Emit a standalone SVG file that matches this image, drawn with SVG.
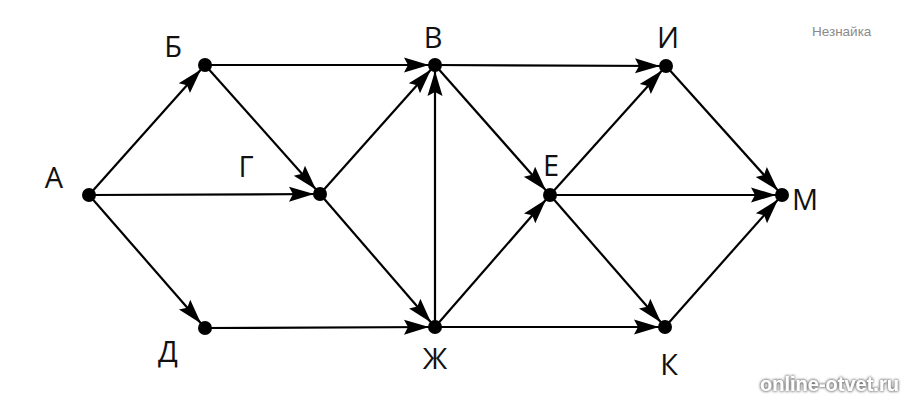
<svg xmlns="http://www.w3.org/2000/svg" width="906" height="400" viewBox="0 0 906 400">
<style>
.e{stroke:#000;stroke-width:2.2;fill:none;marker-end:url(#ah)}
.d{fill:#000}
.l{font-family:"Open Sans","Liberation Sans",sans-serif;font-size:29px;fill:#111;text-anchor:middle}
.wm{font-family:"Liberation Sans",Arial,sans-serif;font-size:13.5px;fill:#8a8a8a}
.wm2{font-family:"Liberation Sans",Arial,sans-serif;font-size:20px;font-weight:bold;fill:#fff}
</style>
<defs>
<marker id="ah" markerUnits="userSpaceOnUse" markerWidth="30" markerHeight="20" refX="6" refY="0" orient="auto" overflow="visible">
<path d="M-25,-7.5 L0,0 L-25,7.5 L-21,0 z" fill="#000"/>
</marker>
<filter id="sh" x="-10%" y="-50%" width="120%" height="200%">
<feGaussianBlur in="SourceAlpha" stdDeviation="1.5" result="b"/>
<feFlood flood-color="#666"/>
<feComposite in2="b" operator="in" result="s"/>
<feMerge><feMergeNode in="s"/><feMergeNode in="s"/><feMergeNode in="SourceGraphic"/></feMerge>
</filter>
</defs>
<rect width="906" height="400" fill="#fff"/>
<g id="connectors">
<line class="e" x1="89" y1="195" x2="205" y2="65"/>
<line class="e" x1="89" y1="195" x2="320" y2="194"/>
<line class="e" x1="89" y1="195" x2="205" y2="328"/>
<line class="e" x1="205" y1="65" x2="435" y2="65"/>
<line class="e" x1="205" y1="65" x2="320" y2="194"/>
<line class="e" x1="320" y1="194" x2="435" y2="65"/>
<line class="e" x1="320" y1="194" x2="435" y2="327"/>
<line class="e" x1="205" y1="328" x2="435" y2="327"/>
<line class="e" x1="435" y1="327" x2="435" y2="65"/>
<line class="e" x1="435" y1="327" x2="550" y2="195"/>
<line class="e" x1="435" y1="327" x2="665" y2="327"/>
<line class="e" x1="435" y1="65" x2="550" y2="195"/>
<line class="e" x1="435" y1="65" x2="666" y2="66"/>
<line class="e" x1="550" y1="195" x2="666" y2="66"/>
<line class="e" x1="550" y1="195" x2="782" y2="195"/>
<line class="e" x1="550" y1="195" x2="665" y2="327"/>
<line class="e" x1="666" y1="66" x2="782" y2="195"/>
<line class="e" x1="665" y1="327" x2="782" y2="195"/>
</g>
<g id="A"><circle class="d" cx="89" cy="195" r="7"/><text class="l" x="54" y="188">А</text></g>
<g id="B"><circle class="d" cx="205" cy="65" r="7"/><text class="l" x="173" y="57">Б</text></g>
<g id="G"><circle class="d" cx="320" cy="194" r="7"/><text class="l" x="246" y="177">Г</text></g>
<g id="D"><circle class="d" cx="205" cy="328" r="7"/><text class="l" x="168" y="362">Д</text></g>
<g id="V"><circle class="d" cx="435" cy="65" r="7"/><text class="l" x="433" y="48">В</text></g>
<g id="Zh"><circle class="d" cx="435" cy="327" r="7"/><text class="l" x="435" y="369">Ж</text></g>
<g id="E"><circle class="d" cx="550" cy="195" r="7"/><text class="l" x="551" y="176">Е</text></g>
<g id="I"><circle class="d" cx="666" cy="66" r="7"/><text class="l" x="668" y="48">И</text></g>
<g id="K"><circle class="d" cx="665" cy="327" r="7"/><text class="l" x="669" y="375">К</text></g>
<g id="M"><circle class="d" cx="782" cy="195" r="7"/><text class="l" x="805" y="210">М</text></g>
<text class="wm" x="812" y="36">Незнайка</text>
<text class="wm2" x="760" y="391" filter="url(#sh)">online-otvet.ru</text>
</svg>
